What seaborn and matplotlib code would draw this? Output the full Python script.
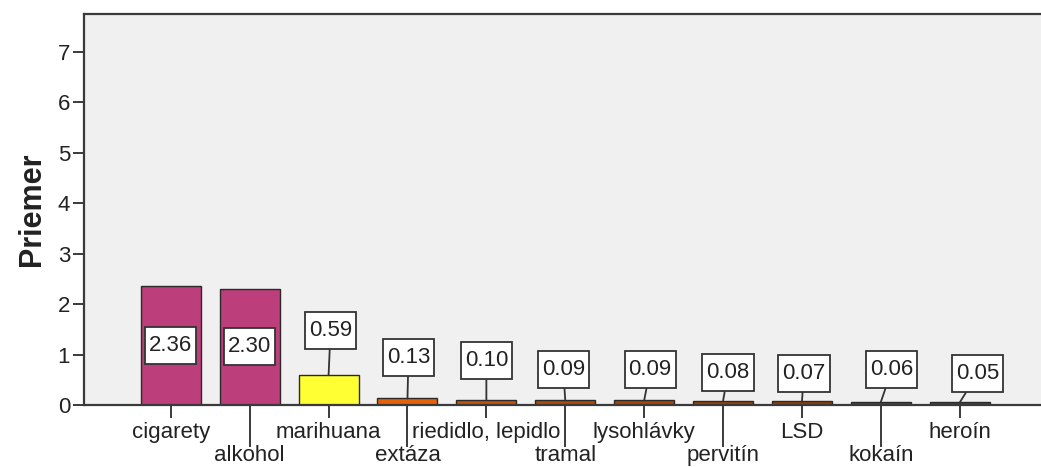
import matplotlib
matplotlib.use("Agg")
import matplotlib.pyplot as plt
from matplotlib.path import Path
import seaborn as sns
import pandas as pd

# Mean usage score per substance
substances = ["cigarety", "alkohol", "marihuana", "extáza", "riedidlo, lepidlo",
              "tramal", "lysohlávky", "pervitín", "LSD", "kokaín", "heroín"]
means = [2.36, 2.30, 0.59, 0.13, 0.10, 0.09, 0.09, 0.08, 0.07, 0.06, 0.05]
value_labels = ["2.36", "2.30", "0.59", "0.13", "0.10", "0.09", "0.09",
                "0.08", "0.07", "0.06", "0.05"]
y_ticks = [0, 1, 2, 3, 4, 5, 6, 7]

bar_colors = ["#BC3E7B", "#BC3E7B", "#FFFF33", "#E3620A", "#C4520A", "#B04A06",
              "#A84505", "#9C4104", "#933C03", "#883603", "#7E3102"]
# label box placement: (dx, dy) in pixels from the top of each bar; None = inside
label_offsets = [None, None, (2, 45), (1, 41), (0, 39), (-2, 31), (6, 31),
                 (5, 28), (2, 28), (11, 32), (18, 29)]

sns.set_theme(style="white")
plt.rcParams["font.family"] = ["Liberation Sans", "DejaVu Sans"]
TXT = "#222222"
SPINE = "#3a3a3a"
FS = 16

df = pd.DataFrame({"substance": substances, "mean": means})

fig = plt.figure(figsize=(10.41, 4.67), dpi=100)
ax = fig.add_axes([84 / 1041, 62 / 467, 957 / 1041, 391 / 467])
ax.set_facecolor("#F0F0F0")

sns.barplot(data=df, x="substance", y="mean", hue="substance",
            palette=bar_colors, legend=False, width=0.76, saturation=1,
            edgecolor="#2a2a2a", linewidth=1.0, ax=ax)

ax.set_xlim(-1.10, 11.03)
ax.set_ylim(0, 7.75)
ax.set_yticks(y_ticks)
ax.set_yticklabels([str(t) for t in y_ticks])
ax.set_xlabel("")
ax.set_ylabel("Priemer", fontsize=22, fontweight="bold", color=TXT, labelpad=8)

for side in ["left", "top", "bottom"]:
    ax.spines[side].set_color(SPINE)
    ax.spines[side].set_linewidth(1.6)
ax.spines["right"].set_visible(False)

ax.tick_params(axis="y", direction="out", length=8, width=1.4, color=SPINE,
               labelsize=FS, labelcolor=TXT, pad=2, left=True)
ax.tick_params(axis="x", direction="out", width=1.4, color=SPINE,
               labelsize=FS, labelcolor=TXT, bottom=True)


def label_box(x0, y0, width, height, mutation_size):
    """Rectangle with more padding above/below than at the sides."""
    px = 0.18 * mutation_size
    py = 0.36 * mutation_size
    return Path([(x0 - px, y0 - py), (x0 + width + px, y0 - py),
                 (x0 + width + px, y0 + height + py), (x0 - px, y0 + height + py),
                 (x0 - px, y0 - py)], closed=True)


PX = 0.72  # points per pixel at 100 dpi
box = dict(boxstyle=label_box, facecolor="white", edgecolor="#333333",
           linewidth=1.3)
for i, (v, lab, off) in enumerate(zip(means, value_labels, label_offsets)):
    if off is None:
        ax.annotate(lab, xy=(i, v / 2), ha="center", va="center",
                    fontsize=FS, color=TXT, bbox=box)
    else:
        dx, dy = off
        ax.annotate(lab, xy=(i, v), xytext=(dx * PX, dy * PX),
                    textcoords="offset points", ha="center", va="center",
                    fontsize=FS, color=TXT, bbox=box,
                    arrowprops=dict(arrowstyle="-", color="#333333", lw=1.3,
                                    shrinkA=0, shrinkB=0))

# staggered category labels: alternate short and long tick marks
for i, t in enumerate(ax.xaxis.get_major_ticks()):
    if i % 2 == 0:
        t._apply_params(size=13 * PX, pad=4 * PX)
    else:
        t._apply_params(size=42 * PX, pad=-2 * PX)

fig.savefig("out.png", dpi=100)
